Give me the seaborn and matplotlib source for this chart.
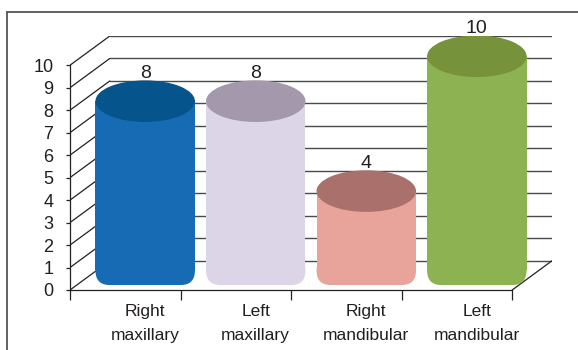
"""3D-style cylinder bar chart with seaborn."""
import matplotlib
matplotlib.use('Agg')
import matplotlib.pyplot as plt
from matplotlib.patches import Ellipse, FancyBboxPatch
from matplotlib.lines import Line2D
import seaborn as sns

categories = ['Right\nmaxillary', 'Left\nmaxillary', 'Right\nmandibular', 'Left\nmandibular']
values = [8, 8, 4, 10]
y_ticks = list(range(0, 11))
body_colors = ['#176bb5', '#dcd5e8', '#e8a49a', '#8cb251']
top_colors = ['#05548b', '#a498ac', '#a9706c', '#76923b']

DX, DY = 0.36, 1.3      # depth offset of the back wall (data units)
TEXT = '#231f20'
LINE = '#4a4a4a'

sns.set_style('white')
plt.rcParams['font.family'] = ['Liberation Sans Narrow', 'Liberation Sans', 'DejaVu Sans']

fig = plt.figure(figsize=(5.78, 3.5), dpi=100)
ax = fig.add_axes([70 / 578, 60 / 350, 482 / 578, 254 / 350])

# bars
sns.barplot(x=categories, y=values, hue=categories, palette=body_colors,
            saturation=1, width=0.9, legend=False, ax=ax, zorder=3)

ax.set_xlim(-0.5, 3.5 + DX)
ax.set_ylim(0, 10 + DY)

# back wall gridlines and the diagonals to the front axis
for v in y_ticks:
    ax.plot([-0.5 + DX, 3.5 + DX], [v + DY, v + DY], color=LINE, lw=1, zorder=1)
    ax.plot([-0.5, -0.5 + DX], [v, v + DY], color='#222222', lw=0.9, zorder=1)
ax.plot([3.5, 3.5 + DX], [0, DY], color='#222222', lw=0.9, zorder=1)

# turn the flat bars into cylinders
base = 0.22
rx, ry = 0.13, 0.65
for bar, value, top_c in zip(ax.patches, values, top_colors):
    x0 = bar.get_x() + DX / 2
    w = bar.get_width()
    top = bar.get_height() + 0.4
    c = bar.get_facecolor()
    bar.set_x(x0)
    bar.set_y(base + ry)
    bar.set_height(top - base - ry)
    bar.set_linewidth(0)
    ax.add_patch(FancyBboxPatch((x0, base), w, 2 * ry,
                                boxstyle=f'round,pad=0,rounding_size={rx}',
                                mutation_aspect=ry / rx, facecolor=c,
                                lw=0, zorder=3))
    ax.add_patch(Ellipse((x0 + w / 2, top), w, 1.85, facecolor=top_c,
                         lw=0, zorder=4))
    ax.text(x0 + w / 2, value + DY + 0.12, f'{value}', ha='center',
            va='baseline', fontsize=14, color=TEXT, zorder=5)

# front axes
sns.despine(ax=ax, top=True, right=True)
ax.spines['left'].set_bounds(0, 10)
ax.spines['bottom'].set_bounds(-0.5, 3.5)
for s in ('left', 'bottom'):
    ax.spines[s].set_color('#222222')
    ax.spines[s].set_linewidth(0.9)

ax.set_yticks(y_ticks)
ax.set_yticklabels([str(t) for t in y_ticks])
ax.tick_params(axis='y', length=3, width=0.9, pad=9, labelsize=13,
               colors='#222222', labelcolor=TEXT, left=True)

ax.set_xticks([-0.5, 0.5, 1.5, 2.5, 3.5])
ax.set_xticklabels([])
ax.set_xticks([i + DX / 2 for i in range(len(categories))], minor=True)
ax.set_xticklabels(categories, minor=True, fontsize=12.5, color=TEXT,
                   linespacing=1.75)
ax.tick_params(axis='x', which='major', length=7, width=0.9,
               colors='#222222', bottom=True)
ax.tick_params(axis='x', which='minor', length=0, pad=10)
ax.set_xlabel('')
ax.set_ylabel('')

# outer frame (top and left edges visible)
fig.add_artist(Line2D([7 / 578, 1], [1 - 12 / 350, 1 - 12 / 350],
                      color='#555555', lw=1.3))
fig.add_artist(Line2D([7 / 578, 7 / 578], [0, 1 - 12 / 350],
                      color='#555555', lw=1.3))

fig.savefig('out.png', dpi=100)
